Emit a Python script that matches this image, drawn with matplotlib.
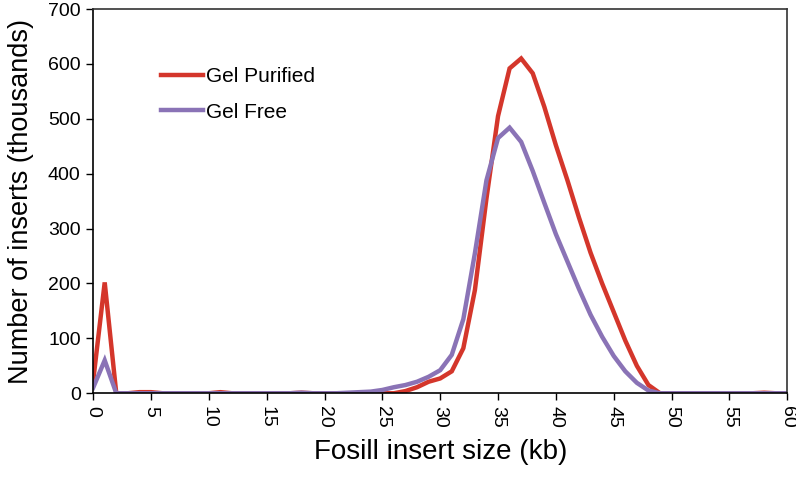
import matplotlib
matplotlib.use("Agg")
import matplotlib.pyplot as plt

plt.rcParams['font.family'] = ['Liberation Sans', 'DejaVu Sans']

# insert size (kb)
sizes = list(range(0, 61))

# number of inserts (thousands)
gel_purified = [22, 202, 0, 0, 2, 2, 0, 0, 0, 0,
                0, 2, 0, 0, 0, 0, 0, 0, 1, 0,
                0, 0, 0, 0, 0, 0, 0, 4, 11, 21,
                27, 40, 82, 188, 355, 505, 592, 610, 583, 522,
                452, 388, 320, 256, 200, 148, 96, 50, 15, 0,
                0, 0, 0, 0, 0, 0, 0, 0, 1, 0, 0]
gel_free = [10, 60, 0, 0, 0, 0, 0, 0, 0, 0,
            0, 0, 0, 0, 0, 0, 0, 0, 1, 0,
            0, 0, 1, 2, 3, 6, 11, 15, 21, 30,
            42, 70, 135, 255, 388, 465, 484, 458, 405, 347,
            290, 240, 190, 143, 103, 68, 40, 19, 5, 0,
            0, 0, 0, 0, 0, 0, 0, 0, 0, 0, 0]

red = '#d4362b'
purple = '#8a73b6'

fig = plt.figure(figsize=(7.96, 4.79), dpi=100)
ax = fig.add_axes([0.117, 0.179, 0.872, 0.802])

ax.plot(sizes, gel_purified, color=red, lw=3.2, label='Gel Purified',
        solid_joinstyle='miter')
ax.plot(sizes, gel_free, color=purple, lw=3.2, label='Gel Free',
        solid_joinstyle='miter')

ax.set_xlim(0, 60)
ax.set_ylim(0, 700)
ax.set_xticks(range(0, 61, 5))
ax.set_yticks(range(0, 701, 100))
ax.tick_params(direction='out', length=5, width=1, labelsize=14, pad=4)
for lbl in ax.get_xticklabels():
    lbl.set_rotation(270)

for s in ['left', 'bottom']:
    ax.spines[s].set_linewidth(1.2)
    ax.spines[s].set_color('black')
for s in ['top', 'right']:
    ax.spines[s].set_linewidth(1.2)
    ax.spines[s].set_color('#333333')

ax.set_xlabel('Fosill insert size (kb)', fontsize=20, labelpad=8)
ax.set_ylabel('Number of inserts (thousands)', fontsize=19.5, labelpad=10)

ax.legend(loc='upper left', bbox_to_anchor=(0.086, 0.87), frameon=False,
          fontsize=15, handlelength=2.0, handletextpad=0.15,
          labelspacing=0.78, borderaxespad=0)

fig.savefig('out.png', dpi=100)
